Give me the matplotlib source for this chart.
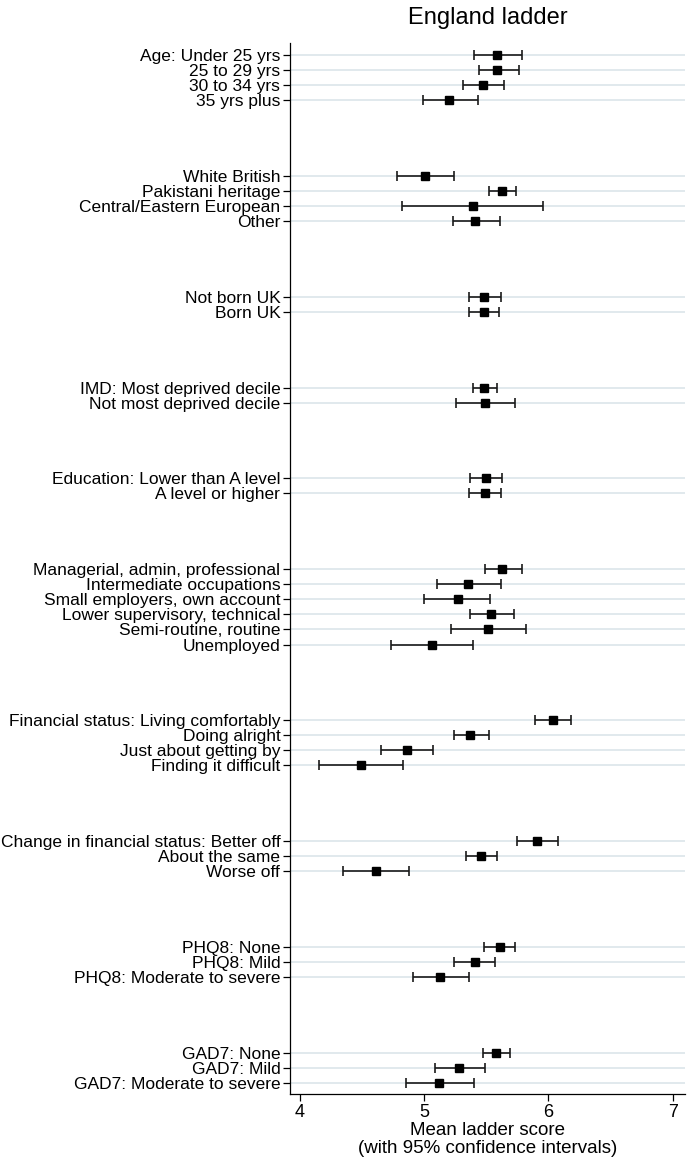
import matplotlib
matplotlib.use("Agg")
import matplotlib.pyplot as plt
import numpy as np

plt.rcParams['font.family'] = ['Liberation Sans', 'DejaVu Sans']

labels = [
    "Age: Under 25 yrs", "25 to 29 yrs", "30 to 34 yrs", "35 yrs plus",
    "White British", "Pakistani heritage", "Central/Eastern European", "Other",
    "Not born UK", "Born UK",
    "IMD: Most deprived decile", "Not most deprived decile",
    "Education: Lower than A level", "A level or higher",
    "Managerial, admin, professional", "Intermediate occupations",
    "Small employers, own account", "Lower supervisory, technical",
    "Semi-routine, routine", "Unemployed",
    "Financial status: Living comfortably", "Doing alright",
    "Just about getting by", "Finding it difficult",
    "Change in financial status: Better off", "About the same", "Worse off",
    "PHQ8: None", "PHQ8: Mild", "PHQ8: Moderate to severe",
    "GAD7: None", "GAD7: Mild", "GAD7: Moderate to severe",
]
group_sizes = [4, 4, 2, 2, 2, 6, 4, 3, 3, 3]

mean = [5.59, 5.59, 5.47, 5.20,
        5.01, 5.63, 5.39, 5.41,
        5.48, 5.48,
        5.48, 5.49,
        5.50, 5.49,
        5.63, 5.35, 5.27, 5.54, 5.51, 5.06,
        6.04, 5.37, 4.86, 4.49,
        5.91, 5.46, 4.61,
        5.61, 5.41, 5.13,
        5.58, 5.28, 5.12]
lower = [5.40, 5.44, 5.31, 4.99,
         4.78, 5.52, 4.82, 5.23,
         5.36, 5.36,
         5.39, 5.26,
         5.37, 5.36,
         5.49, 5.10, 5.00, 5.37, 5.22, 4.73,
         5.89, 5.24, 4.65, 4.15,
         5.75, 5.34, 4.35,
         5.48, 5.24, 4.91,
         5.47, 5.09, 4.85]
upper = [5.79, 5.76, 5.64, 5.43,
         5.24, 5.74, 5.96, 5.61,
         5.62, 5.60,
         5.59, 5.73,
         5.63, 5.62,
         5.79, 5.62, 5.53, 5.72, 5.82, 5.39,
         6.18, 5.52, 5.07, 4.83,
         6.08, 5.59, 4.88,
         5.73, 5.57, 5.36,
         5.69, 5.49, 5.40]

# row positions: 4 empty rows between groups
pos = []
r = 0
for g in group_sizes:
    pos.extend(range(r, r + g))
    r += g + 4
pos = np.array(pos)

mean = np.array(mean)
lower = np.array(lower)
upper = np.array(upper)

fig = plt.figure(figsize=(6.88, 11.66), dpi=100)
ax = fig.add_axes([290 / 688, 1 - 1094 / 1166, 395 / 688, (1094 - 43) / 1166])

for p in pos:
    ax.axhline(p, color='#dbe5ea', lw=1.2, zorder=0)

ax.errorbar(mean, pos, xerr=[mean - lower, upper - mean], fmt='s',
            color='black', ecolor='#1a1a1a', elinewidth=1.2, capsize=3.4,
            capthick=1.2, markersize=5.5, zorder=3)

ax.set_yticks(pos)
ax.set_yticklabels(labels, fontsize=12.5)
ax.set_ylim(pos[-1] + 0.73, -0.79)
ax.set_xlim(3.92, 7.1)
ax.set_xticks([4, 5, 6, 7])
ax.tick_params(axis='x', labelsize=13, length=5, width=0.9, pad=2)
ax.tick_params(axis='y', length=5, width=0.9, pad=2)

for s in ['top', 'right']:
    ax.spines[s].set_visible(False)
for s in ['left', 'bottom']:
    ax.spines[s].set_linewidth(0.9)

ax.set_xlabel("Mean ladder score\n(with 95% confidence intervals)", fontsize=13.5,
              labelpad=1, linespacing=1.05)
ax.set_title("England ladder", fontsize=17, pad=14)

fig.savefig("out.png", dpi=100)
